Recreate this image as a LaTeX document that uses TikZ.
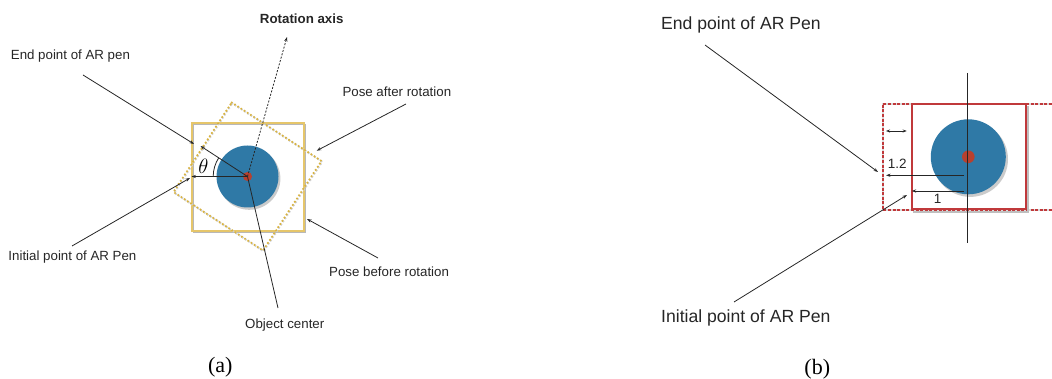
\documentclass[tikz,border=0pt]{standalone}
\usepackage{fontspec}
\setmainfont{Liberation Serif}
\setsansfont{Liberation Sans}
\usetikzlibrary{arrows.meta}
\definecolor{sqyel}{HTML}{E6C66A}
\definecolor{dotyel}{HTML}{D9B340}
\definecolor{objblue}{HTML}{2F79A6}
\definecolor{dotred}{HTML}{B8402E}
\definecolor{sqred}{HTML}{C0393B}
\begin{document}
\begin{tikzpicture}[x=1pt,y=-1pt,
  lbl/.style={font=\sffamily\fontsize{13.3}{15}\selectfont, inner sep=0pt, anchor=base west, text=black!85},
  lblb/.style={font=\sffamily\fontsize{17.6}{20}\selectfont, inner sep=0pt, anchor=base west, text=black!85},
  numlbl/.style={font=\sffamily\fontsize{13.5}{15}\selectfont, inner sep=0pt, text=black!85},
  capt/.style={font=\fontsize{22}{24}\selectfont, inner sep=0pt, anchor=base},
  lead/.style={draw=black!85, line width=0.8pt, -{Stealth[length=4.5pt,width=3.2pt]}},
  plainln/.style={draw=black!85, line width=0.8pt},
  axisln/.style={draw=black!85, line width=0.8pt, dash pattern=on 2pt off 1.5pt, -{Stealth[length=4.5pt,width=3.2pt]}},
  shadowc/.style={fill=black!45, opacity=0.45},
]
\useasboundingbox (0,0) rectangle (1052,379);

% ---------------- panel (a) ----------------
\coordinate (ca) at (247.5,176.5);
\draw[black!28, line width=1.7pt] (193.6,124.6) rectangle (305.6,232.6);
\draw[sqyel, line width=1.7pt] (192,123) rectangle (304,231);
\fill[shadowc] (249.2,178.6) circle (31.2);
\fill[objblue] (ca) circle (31);
\draw[black!18, line width=2.7pt, line cap=round, dash pattern=on 0pt off 3.8pt]
  (232.2,103.2) -- (322.2,161.7) -- (263.7,251.2) -- (174.2,192.7) -- cycle;
\draw[dotyel, line width=2.4pt, line cap=round, dash pattern=on 0pt off 3.8pt]
  (231.7,102.5) -- (321.5,161) -- (263,250.5) -- (173.5,192) -- cycle;
\fill[dotred] (ca) circle (4.5);

\coordinate (ia) at (191.5,176.5);
\coordinate (ea) at (200.5,146);
\draw[lead] (ca) -- (ia);
\draw[lead] (ca) -- (ea);
\draw[plainln] (213.2,176.5) arc[start angle=180, end angle=213, radius=34.3];
\node[inner sep=0pt, font=\fontsize{20}{22}\selectfont] (th) at (203.3,166.5) {$\theta$};

\coordinate (ra) at (287,37);
\draw[axisln] (ca) -- (ra);
\node[lbl, anchor=base, font=\sffamily\bfseries\fontsize{13.3}{15}\selectfont] (t2) at (301.7,24) {Rotation axis};

\node[lbl] (t1) at (10.7,60) {End point of AR pen};
\node[lbl] (t3) at (342.3,96.7) {Pose after rotation};
\node[lbl] (t4) at (8.3,261) {Initial point of AR Pen};
\node[lbl] (t5) at (329,276.7) {Pose before rotation};
\node[lbl] (t6) at (245,328.3) {Object center};

\coordinate (l1s) at (83,75);    \coordinate (l1e) at (194,144);
\coordinate (l4s) at (72,246);   \coordinate (l4e) at (190,178);
\coordinate (l3s) at (406,104);  \coordinate (l3e) at (316.7,150.7);
\coordinate (l5s) at (378,258);  \coordinate (l5e) at (307,219);
\coordinate (l6s) at (278,308);
\draw[lead] (l1s) -- (l1e);
\draw[lead] (l4s) -- (l4e);
\draw[lead] (l3s) -- (l3e);
\draw[lead] (l5s) -- (l5e);
\draw[plainln] (l6s) -- (ca);

\node[capt] (capa) at (220.3,372) {(a)};

% ---------------- panel (b) ----------------
\coordinate (cb) at (968.3,156.8);
\draw[black!14, line width=1.6pt] (1052,104) -- (882.7,104) -- (882.7,210) -- (1052,210);
\draw[sqred, line width=1.6pt, dash pattern=on 3pt off 1.6pt] (1052,104) -- (882.7,104) -- (882.7,210) -- (1052,210);
\draw[black!25, line width=2pt] (1027.8,106) -- (1027.8,211.7) -- (913,211.7);
\draw[sqred, line width=2pt] (911.5,104.3) rectangle (1025.5,209.5);
\fill[shadowc] (970.3,159.2) circle (37.7);
\fill[objblue] (cb) circle (37.5);
\fill[dotred] (cb) circle (6.3);
\coordinate (vt) at (967.7,73);
\coordinate (vb) at (967.7,243);
\draw[plainln] (vt) -- (vb);

\coordinate (d1) at (886,131);   \coordinate (d2) at (906.7,131);
\draw[plainln, {Stealth[length=4pt,width=3pt]}-{Stealth[length=4pt,width=3pt]}] (d1) -- (d2);
\coordinate (a12s) at (964,175.3); \coordinate (a12e) at (886,175.3);
\draw[lead] (a12s) -- (a12e);
\node[numlbl] (n12) at (897.3,164) {1.2};
\coordinate (a1s) at (964,191);  \coordinate (a1e) at (911.7,191);
\draw[lead] (a1s) -- (a1e);
\node[numlbl] (n1) at (937.7,199) {1};

\node[lblb] (b1) at (661,29.3) {End point of AR Pen};
\node[lblb] (b2) at (661,322.7) {Initial point of AR Pen};
\coordinate (m1s) at (705,45);   \coordinate (m1e) at (878,172);
\coordinate (m2s) at (734,302);  \coordinate (m2e) at (907,195);
\draw[lead] (m1s) -- (m1e);
\draw[lead] (m2s) -- (m2e);

\node[capt] (capb) at (817.3,374) {(b)};
\end{tikzpicture}
\end{document}
